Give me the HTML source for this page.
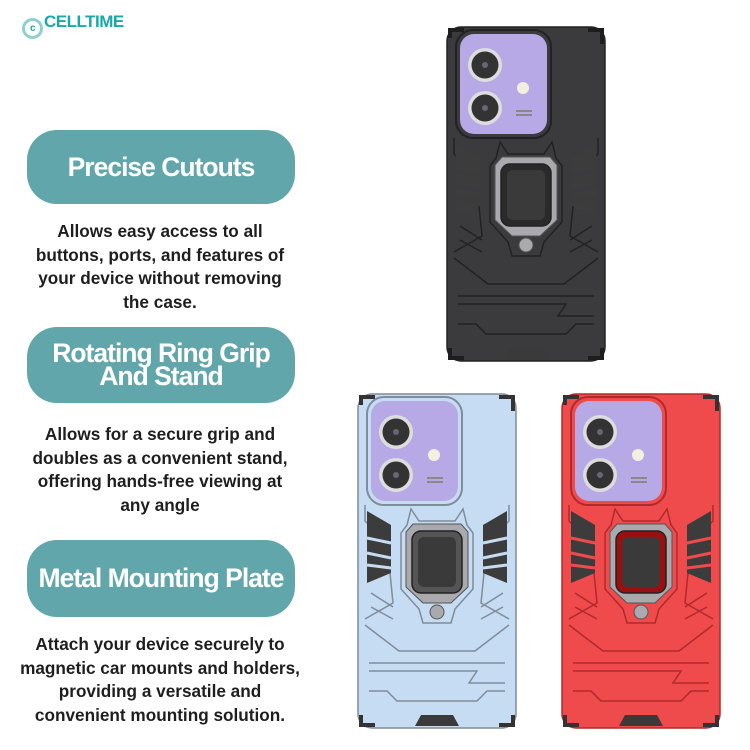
<!DOCTYPE html>
<html><head><meta charset="utf-8"><style>
body{margin:0;width:750px;height:750px;background:#fff;position:relative;overflow:hidden;font-family:"Liberation Sans",sans-serif}
.pill{position:absolute;left:27px;width:268px;background:#61a6aa;border-radius:30px;color:#fff;font-weight:bold;text-align:center;display:flex;align-items:center;justify-content:center;font-size:26.5px;letter-spacing:-1px;line-height:23px}
.txt{position:absolute;left:5px;width:310px;text-align:center;font-weight:bold;font-size:17.2px;line-height:23.5px;color:#1e1e1e}
.logo{position:absolute;left:22px;top:12px;font-weight:bold;color:#1ba8a8;font-size:17px;letter-spacing:-0.5px}
svg.ph{position:absolute}
</style></head><body>
<div class="logo"><span style="display:inline-block;width:15px;height:15px;border:3px solid #8fcfcf;border-radius:50%;vertical-align:-4px;margin-right:1px;font-size:10px;text-align:center;line-height:15px;color:#1ba8a8">c</span>CELLTIME</div>

<div class="pill" style="top:130px;height:74px">Precise Cutouts</div>
<div class="txt" style="top:220px">Allows easy access to all<br>buttons, ports, and features of<br>your device without removing<br>the case.</div>
<div class="pill" style="top:327px;height:76px">Rotating Ring Grip<br>And Stand</div>
<div class="txt" style="top:423px">Allows for a secure grip and<br>doubles as a convenient stand,<br>offering hands-free viewing at<br>any angle</div>
<div class="pill" style="top:540px;height:77px">Metal Mounting Plate</div>
<div class="txt" style="top:633px">Attach your device securely to<br>magnetic car mounts and holders,<br>providing a versatile and<br>convenient mounting solution.</div>

<svg width="0" height="0" style="position:absolute"><defs>
<g id="phone">
<rect x="1" y="1" width="158" height="334" rx="14" style="fill:var(--b);stroke:var(--l)" stroke-width="1.5"/>
<path d="M4 12 L4 4 L18 4 M142 4 L156 4 L156 18 M4 322 L4 332 L18 332 M142 332 L156 332 L156 322" style="stroke:var(--d)" stroke-width="4" fill="none"/>
<rect x="10" y="4" width="95" height="108" rx="17" style="fill:var(--b);stroke:var(--l)" stroke-width="2"/>
<rect x="14" y="8" width="87" height="100" rx="14" fill="#b6a9e6"/>
<circle cx="39" cy="39" r="17" fill="#ddd"/><circle cx="39" cy="39" r="13.5" fill="#333"/><circle cx="39" cy="39" r="3" fill="#667"/>
<circle cx="39" cy="82" r="17" fill="#ddd"/><circle cx="39" cy="82" r="13.5" fill="#333"/><circle cx="39" cy="82" r="3" fill="#667"/>
<circle cx="77" cy="62" r="6" fill="#f4f0e0"/>
<rect x="70" y="84" width="16" height="2" fill="#888"/><rect x="70" y="88" width="16" height="2" fill="#888"/>
<path d="M8 112 L8 128 L30 150 L36 210 L8 226" style="stroke:var(--l)" fill="none" stroke-width="1.5"/>
<path d="M152 112 L152 128 L130 150 L124 210 L152 226" style="stroke:var(--l)" fill="none" stroke-width="1.5"/>
<path d="M10 118 L10 190 L34 180 L34 132 Z" fill="#3c3c3c"/>
<path d="M150 118 L150 190 L126 180 L126 132 Z" fill="#3c3c3c"/>
<path d="M10 145 L34 150 M10 160 L34 165 M10 172 L34 175 M150 145 L126 150 M150 160 L126 165 M150 172 L126 175" style="stroke:var(--b)" stroke-width="3"/>
<path d="M54 116 L50 132 L44 140 L44 196 L62 216 L66 230 L94 230 L98 216 L116 196 L116 140 L110 132 L106 116 L98 128 L62 128 Z" style="fill:var(--b);stroke:var(--l)" stroke-width="1.5"/>
<path d="M56 131 L104 131 L111 139 L111 194 L94 210 L66 210 L49 194 L49 139 Z" fill="#a9a9ae" stroke="#555" stroke-width="1"/>
<rect x="55" y="138" width="50" height="62" rx="9" style="fill:var(--r)" stroke="#222" stroke-width="1.5"/>
<rect x="61" y="144" width="38" height="50" rx="6" fill="#3a3a3a"/>
<circle cx="80" cy="219" r="7" fill="#a9a9ae" stroke="#555"/>
<path d="M8 232 L42 258 L118 258 L152 232" style="stroke:var(--l)" fill="none" stroke-width="1.5"/>
<path d="M14 200 L36 214 M14 214 L36 226 M146 200 L124 214 M146 214 L124 226" style="stroke:var(--l)" stroke-width="1.5"/>
<path d="M12 270 L148 270 M12 278 L120 278 L112 290 L148 290 M12 298 L30 298 L40 308 L120 308 L130 298 L148 298" style="stroke:var(--l)" fill="none" stroke-width="1.5"/>
<path d="M58 333 L64 322 L96 322 L102 333 Z" fill="#3a3a3a"/>
</g></defs></svg>

<svg class="ph" style="left:446px;top:26px;--b:#3b3b3e;--l:#222;--d:#1e1e1e;--r:#2a2a2a" width="160" height="337"><use href="#phone"/></svg>
<svg class="ph" style="left:357px;top:393px;--b:#c6dcf3;--l:#7f8c99;--d:#333;--r:#555" width="160" height="337"><use href="#phone"/></svg>
<svg class="ph" style="left:561px;top:393px;--b:#ef4a4c;--l:#b02a2c;--d:#333;--r:#9a1010" width="160" height="337"><use href="#phone"/></svg>
</body></html>
